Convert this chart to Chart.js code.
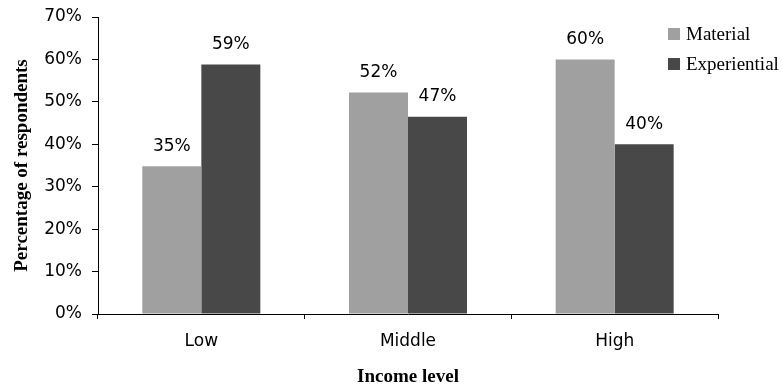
<!DOCTYPE html>
<html>
<head>
<meta charset="utf-8">
<script src="https://cdn.jsdelivr.net/npm/chart.js@4"></script>
<style>
  html, body { margin: 0; padding: 0; background: #fff; }
  #wrap { width: 782px; height: 389px; position: relative; }
</style>
</head>
<body>
<div id="wrap"><canvas id="c" width="782" height="389"></canvas></div>
<script>
const categories = ["Low", "Middle", "High"];
const materialValues = [34.8, 52.2, 60.0];
const experientialValues = [58.8, 46.5, 40.0];
const seriesNames = ["Material", "Experiential"];
const yTickValues = [0, 10, 20, 30, 40, 50, 60, 70];
const xAxisTitle = "Income level";
const yAxisTitle = "Percentage of respondents";

const COLORS = ["#a0a0a0", "#484848"];

const valueLabels = {
  id: "valueLabels",
  afterDatasetsDraw(chart) {
    const ctx = chart.ctx;
    ctx.save();
    ctx.font = "17px 'DejaVu Sans'";
    ctx.fillStyle = "#000";
    ctx.textAlign = "center";
    ctx.textBaseline = "middle";
    chart.data.datasets.forEach((ds, i) => {
      const meta = chart.getDatasetMeta(i);
      meta.data.forEach((bar, j) => {
        ctx.fillText(Math.round(ds.data[j]) + "%", bar.x, bar.y - 20);
      });
    });
    ctx.restore();
  }
};

const sideLegend = {
  id: "sideLegend",
  afterDraw(chart) {
    const ctx = chart.ctx;
    ctx.save();
    ctx.font = "19px 'Liberation Serif'";
    ctx.textBaseline = "middle";
    ctx.textAlign = "left";
    chart.data.datasets.forEach((ds, i) => {
      const cy = 34 + i * 30;
      ctx.fillStyle = ds.backgroundColor;
      ctx.fillRect(668, cy - 6, 12, 12);
      ctx.fillStyle = "#000";
      ctx.fillText(ds.label, 686, cy + 1);
    });
    ctx.restore();
  }
};

new Chart(document.getElementById("c"), {
  type: "bar",
  data: {
    labels: categories,
    datasets: [
      { label: seriesNames[0], data: materialValues, backgroundColor: COLORS[0] },
      { label: seriesNames[1], data: experientialValues, backgroundColor: COLORS[1] }
    ]
  },
  options: {
    responsive: false,
    animation: false,
    devicePixelRatio: 1,
    layout: { padding: { left: 0, right: 64, top: 17, bottom: 0 } },
    plugins: { legend: { display: false }, tooltip: { enabled: false } },
    datasets: { bar: { categoryPercentage: 0.571, barPercentage: 1.0, borderWidth: 0 } },
    scales: {
      x: {
        grid: { drawOnChartArea: false, tickLength: 5, color: "#000", offset: true },
        border: { color: "#000", width: 1 },
        ticks: { color: "#000", font: { family: "DejaVu Sans", size: 17 }, padding: 12 },
        title: {
          display: true, text: xAxisTitle, color: "#000",
          font: { family: "Liberation Serif", size: 19, weight: "bold" },
          padding: { top: 0, bottom: 1 }
        },
        afterFit(scale) { scale.height = 75; scale.paddingLeft = 0; scale.paddingRight = 0; }
      },
      y: {
        min: 0, max: 70,
        afterBuildTicks(scale) { scale.ticks = yTickValues.map(v => ({ value: v })); },
        grid: { drawOnChartArea: false, tickLength: 6, color: "#000" },
        border: { color: "#000", width: 1 },
        ticks: {
          color: "#000", font: { family: "DejaVu Sans", size: 17 }, padding: 10,
          callback: v => v + "%"
        },
        title: {
          display: true, text: yAxisTitle, color: "#000",
          font: { family: "Liberation Serif", size: 19, weight: "bold" },
          padding: { top: 11, bottom: 0 }
        },
        afterFit(scale) { scale.width = 98; scale.paddingTop = 0; scale.paddingBottom = 0; }
      }
    }
  },
  plugins: [valueLabels, sideLegend]
});
</script>
</body>
</html>
